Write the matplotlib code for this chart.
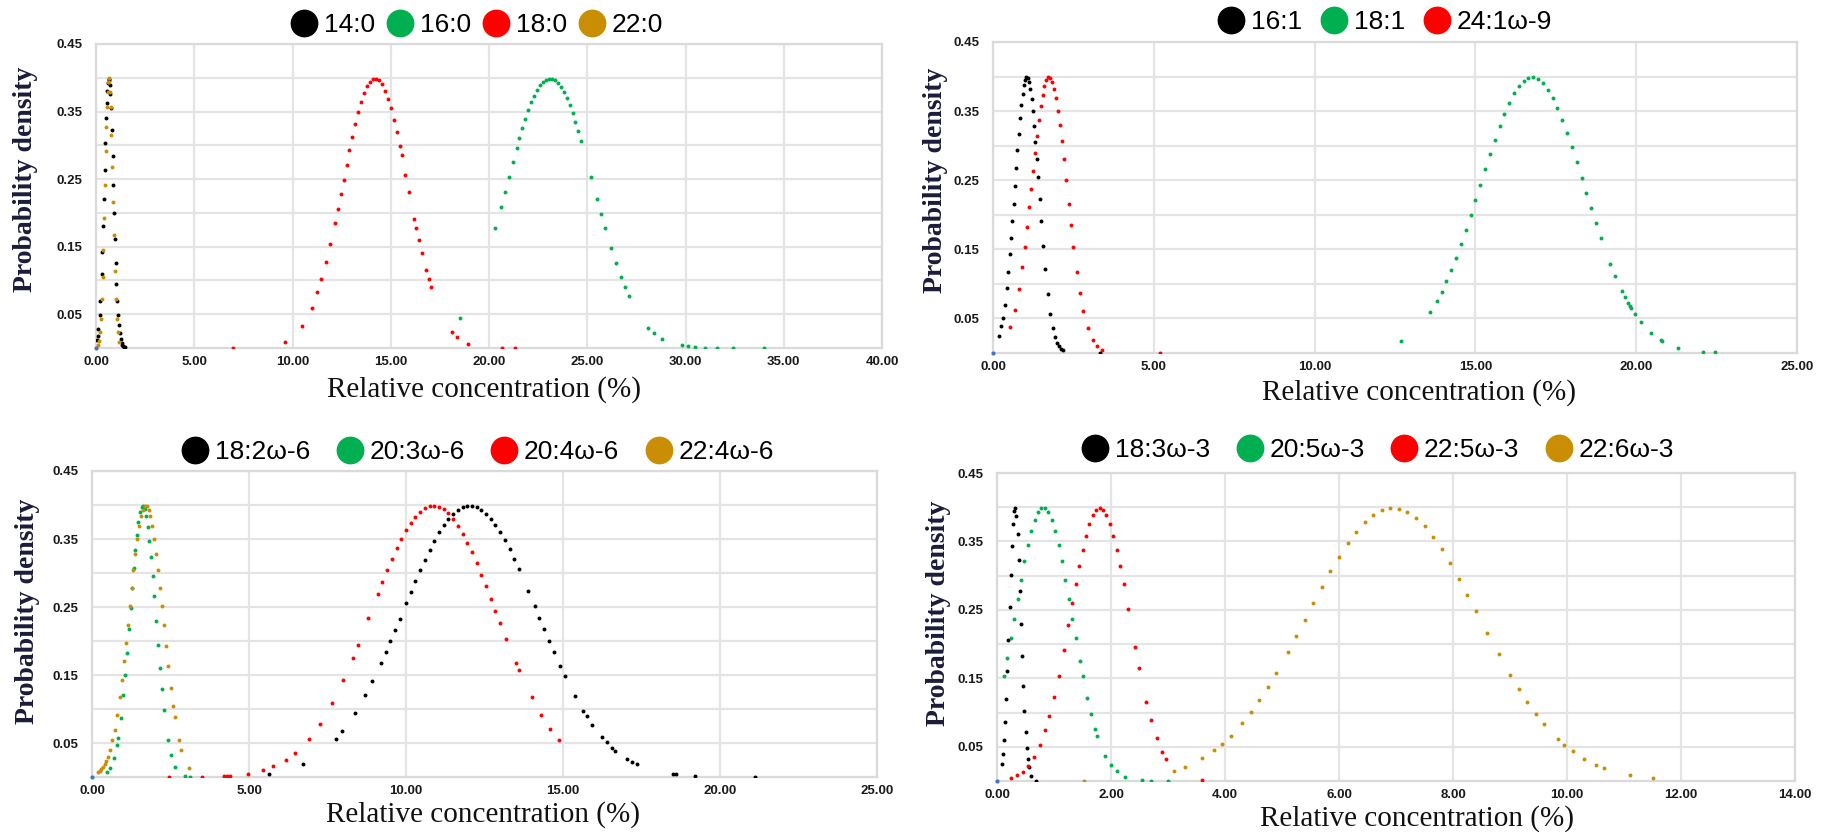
import numpy as np
import matplotlib
matplotlib.use("Agg")
import matplotlib.pyplot as plt
from matplotlib.lines import Line2D

# colours used for the series (black, green, red, gold)
BLACK = "#000000"
GREEN = "#00b050"
RED = "#ff0000"
GOLD = "#c98e04"
BLUE = "#4472c4"

# ---- panel 1: saturated ----
p1_names = ["14:0", "16:0", "18:0", "22:0"]
p1_mean = [0.65, 23.1, 14.2, 0.65]
p1_sd = [0.23, 2.2, 1.65, 0.19]
x_14_0 = [0.04, 0.08, 0.12, 0.18, 0.22, 0.28, 0.32, 0.36, 0.4, 0.44, 0.48, 0.52, 0.55,
          0.58, 0.61, 0.64, 0.67, 0.7, 0.73, 0.76, 0.8, 0.84, 0.88, 0.92, 0.96, 1.0,
          1.04, 1.08, 1.12, 1.16, 1.2, 1.25, 1.3, 1.34, 1.38, 1.42, 1.46]
x_16_0 = [18.5, 20.3, 20.6, 20.8, 21.0, 21.2, 21.4, 21.55, 21.7, 21.85, 22.0, 22.15, 22.3,
          22.45, 22.6, 22.75, 22.9, 23.05, 23.2, 23.35, 23.5, 23.65, 23.8, 23.95, 24.1,
          24.25, 24.4, 24.55, 24.7, 25.2, 25.5, 25.7, 25.9, 26.2, 26.45, 26.7, 26.9, 27.1,
          28.1, 28.4, 28.8, 29.8, 30.15, 30.5, 31.0, 31.6, 32.4, 34.0]
x_18_0 = [6.96, 9.6, 10.5, 10.97, 11.27, 11.47, 11.7, 11.92, 12.15, 12.3, 12.45, 12.6, 12.75,
          12.9, 13.05, 13.2, 13.35, 13.5, 13.65, 13.8, 13.95, 14.1, 14.25, 14.4, 14.55,
          14.7, 14.85, 15.0, 15.15, 15.3, 15.45, 15.55, 15.75, 15.93, 16.2, 16.3, 16.43,
          16.58, 16.8, 16.93, 17.05, 18.14, 18.35, 18.94, 20.68, 21.3]
x_22_0 = [0.08, 0.14, 0.2, 0.25, 0.3, 0.34, 0.38, 0.42, 0.46, 0.5, 0.53, 0.56, 0.59, 0.62,
          0.65, 0.68, 0.71, 0.74, 0.78, 0.82, 0.86, 0.9, 0.95, 1.0, 1.05, 1.1, 1.18]

# ---- panel 2: monounsaturated ----
p2_names = ["16:1", "18:1", "24:1\u03c9-9"]
p2_mean = [1.05, 16.76, 1.74]
p2_sd = [0.37, 1.62, 0.55]
x_16_1 = [0.18, 0.25, 0.3, 0.36, 0.42, 0.47, 0.52, 0.56, 0.6, 0.64, 0.68, 0.72, 0.76, 0.8,
          0.84, 0.88, 0.92, 0.96, 1.0, 1.04, 1.08, 1.12, 1.16, 1.2, 1.24, 1.28, 1.32, 1.36,
          1.4, 1.45, 1.5, 1.56, 1.62, 1.7, 1.78, 1.86, 1.93, 2.0, 2.06, 2.12, 2.17, 3.33]
x_18_1 = [12.69, 13.6, 13.8, 13.95, 14.1, 14.25, 14.4, 14.55, 14.7, 14.85, 15.0, 15.15, 15.3,
          15.45, 15.6, 15.75, 15.9, 16.05, 16.2, 16.35, 16.5, 16.65, 16.8, 16.95, 17.1,
          17.25, 17.4, 17.55, 17.7, 17.85, 18.0, 18.15, 18.3, 18.45, 18.6, 18.75, 18.9,
          19.2, 19.35, 19.56, 19.65, 19.75, 19.8, 19.84, 19.96, 20.15, 20.46, 20.77, 20.8,
          21.3, 22.07, 22.44]
x_24_1 = [0.54, 0.68, 0.8, 0.9, 0.98, 1.05, 1.12, 1.18, 1.24, 1.3, 1.36, 1.42, 1.48, 1.54,
          1.6, 1.66, 1.72, 1.78, 1.84, 1.9, 1.96, 2.02, 2.08, 2.14, 2.2, 2.27, 2.35, 2.42,
          2.5, 2.6, 2.7, 2.81, 2.95, 3.1, 3.22, 3.38, 5.2]

# ---- panel 3: omega-6 ----
p3_names = ["18:2\u03c9-6", "20:3\u03c9-6", "20:4\u03c9-6", "22:4\u03c9-6"]
p3_mean = [12.03, 1.62, 10.87, 1.71]
p3_sd = [2.15, 0.40, 2.0, 0.53]
x_18_2 = [5.65, 6.72, 7.77, 7.97, 8.38, 8.71, 8.93, 9.2, 9.35, 9.5, 9.65, 9.8, 10.0, 10.15,
          10.3, 10.45, 10.6, 10.75, 10.9, 11.05, 11.2, 11.35, 11.5, 11.65, 11.8, 11.95,
          12.1, 12.25, 12.4, 12.55, 12.7, 12.85, 13.0, 13.15, 13.3, 13.45, 13.6, 13.9,
          14.1, 14.25, 14.4, 14.55, 14.7, 14.9, 15.05, 15.38, 15.65, 15.75, 15.93, 16.25,
          16.39, 16.57, 16.67, 17.03, 17.2, 17.36, 18.5, 18.6, 19.2, 21.1]
x_20_3 = [0.48, 0.57, 0.7, 0.79, 0.83, 0.92, 1.0, 1.06, 1.12, 1.18, 1.23, 1.28, 1.33, 1.38,
          1.43, 1.48, 1.53, 1.58, 1.63, 1.68, 1.73, 1.78, 1.83, 1.88, 1.93, 1.98, 2.04,
          2.1, 2.16, 2.22, 2.29, 2.42, 2.52, 2.65, 2.96, 3.12]
x_20_4 = [2.45, 3.5, 4.2, 4.3, 4.4, 4.96, 5.45, 5.77, 6.17, 6.46, 6.9, 7.26, 7.64, 8.0, 8.3,
          8.47, 8.8, 9.1, 9.25, 9.4, 9.55, 9.7, 9.85, 10.0, 10.15, 10.3, 10.45, 10.6,
          10.75, 10.9, 11.05, 11.2, 11.35, 11.5, 11.65, 11.8, 11.95, 12.1, 12.25, 12.4,
          12.55, 12.7, 12.85, 13.0, 13.2, 13.5, 13.6, 14.0, 14.3, 14.6, 14.86]
x_22_4 = [0.2, 0.25, 0.3, 0.35, 0.4, 0.45, 0.5, 0.57, 0.65, 0.72, 0.8, 0.88, 0.95, 1.02,
          1.08, 1.14, 1.2, 1.26, 1.32, 1.38, 1.44, 1.5, 1.56, 1.62, 1.68, 1.74, 1.8, 1.86,
          1.92, 1.98, 2.04, 2.1, 2.16, 2.22, 2.28, 2.35, 2.42, 2.5, 2.58, 2.63, 2.77,
          2.85, 3.09]

# ---- panel 4: omega-3 ----
p4_names = ["18:3\u03c9-3", "20:5\u03c9-3", "22:5\u03c9-3", "22:6\u03c9-3"]
p4_mean = [0.315, 0.81, 1.80, 6.94]
p4_sd = [0.10, 0.50, 0.52, 1.50]
x_18_3 = [0.08, 0.1, 0.12, 0.14, 0.16, 0.18, 0.2, 0.22, 0.24, 0.26, 0.28, 0.3, 0.32, 0.34,
          0.36, 0.38, 0.4, 0.42, 0.44, 0.46, 0.48, 0.5, 0.52, 0.54, 0.56, 0.6, 0.68]
x_20_5 = [0.12, 0.18, 0.24, 0.3, 0.36, 0.42, 0.48, 0.54, 0.6, 0.66, 0.72, 0.78, 0.84, 0.9,
          0.96, 1.02, 1.08, 1.14, 1.2, 1.26, 1.32, 1.38, 1.45, 1.5, 1.58, 1.65, 1.72,
          1.76, 1.9, 2.0, 2.1, 2.25, 2.55, 2.7, 3.0]
x_22_5 = [0.25, 0.35, 0.45, 0.55, 0.65, 0.75, 0.85, 0.92, 1.0, 1.08, 1.17, 1.25, 1.32, 1.38,
          1.44, 1.5, 1.56, 1.62, 1.68, 1.74, 1.8, 1.86, 1.92, 1.98, 2.04, 2.1, 2.16, 2.22,
          2.3, 2.42, 2.49, 2.62, 2.7, 2.8, 2.9, 2.97, 3.6]
x_22_6 = [1.52, 3.1, 3.3, 3.6, 3.8, 3.95, 4.1, 4.3, 4.45, 4.6, 4.75, 4.9, 5.1, 5.25, 5.4,
          5.55, 5.7, 5.85, 6.0, 6.15, 6.3, 6.45, 6.6, 6.75, 6.9, 7.05, 7.2, 7.35, 7.5, 7.65,
          7.8, 7.95, 8.1, 8.25, 8.4, 8.6, 8.8, 9.0, 9.15, 9.3, 9.45, 9.6, 9.85, 9.95, 10.1,
          10.3, 10.5, 10.65, 11.1, 11.5]

y_ticks = [0.05, 0.10, 0.15, 0.20, 0.25, 0.30, 0.35, 0.40, 0.45]
y_ticklabels = ["0.05", "", "0.15", "", "0.25", "", "0.35", "", "0.45"]


def density(x, mean, sd):
    # standard normal density of the standardised value
    z = (np.asarray(x) - mean) / sd
    return np.exp(-0.5 * z ** 2) / np.sqrt(2 * np.pi)


W, H = 1821, 832
fig = plt.figure(figsize=(W / 100, H / 100), dpi=100)

# pixel boxes (left, right, top, bottom), legend centre, label centres
panels = [
    dict(box=(96, 882, 44, 348), xmax=40, step=5, names=p1_names, means=p1_mean, sds=p1_sd,
         xs=[x_14_0, x_16_0, x_18_0, x_22_0], colors=[BLACK, GREEN, RED, GOLD],
         leg=(477, 25), colsp=0.45, ylab=(26, 179), xlab=(484, 390)),
    dict(box=(993, 1797, 42, 353), xmax=25, step=5, names=p2_names, means=p2_mean, sds=p2_sd,
         xs=[x_16_1, x_18_1, x_24_1], colors=[BLACK, GREEN, RED],
         leg=(1385, 22), colsp=0.7, ylab=(936, 180), xlab=(1419, 393)),
    dict(box=(92, 877, 471, 777), xmax=25, step=5, names=p3_names, means=p3_mean, sds=p3_sd,
         xs=[x_18_2, x_20_3, x_20_4, x_22_4], colors=[BLACK, GREEN, RED, GOLD],
         leg=(478, 452), colsp=1.0, ylab=(28, 611), xlab=(483, 815)),
    dict(box=(997, 1795, 473, 781), xmax=14, step=2, names=p4_names, means=p4_mean, sds=p4_sd,
         xs=[x_18_3, x_20_5, x_22_5, x_22_6], colors=[BLACK, GREEN, RED, GOLD],
         leg=(1378, 450), colsp=1.0, ylab=(938, 613), xlab=(1417, 819)),
]

for p in panels:
    l, r, t, b = p["box"]
    ax = fig.add_axes([l / W, 1 - b / H, (r - l) / W, (b - t) / H])
    for xs, m, s, c in zip(p["xs"], p["means"], p["sds"], p["colors"]):
        ax.scatter(xs, density(xs, m, s), s=8, color=c, linewidths=0, zorder=3)
    ax.scatter([0], [0], s=9, color=BLUE, linewidths=0, zorder=3, clip_on=False)

    ax.set_xlim(0, p["xmax"])
    ax.set_ylim(0, 0.45)
    xt = np.arange(0, p["xmax"] + 0.01, p["step"])
    ax.set_xticks(xt)
    ax.set_xticklabels(["%.2f" % v for v in xt])
    ax.set_yticks(y_ticks)
    ax.set_yticklabels(y_ticklabels)
    ax.grid(True, color="#e4e4e4", lw=1.6, zorder=0)
    ax.set_axisbelow(True)
    for sp in ax.spines.values():
        sp.set_color("#dadada")
        sp.set_linewidth(1.6)
    ax.tick_params(axis="both", length=0, labelsize=9.5, labelcolor="#1a1a1a")
    ax.tick_params(axis="y", pad=10)
    ax.tick_params(axis="x", pad=6)
    for lab in ax.get_xticklabels() + ax.get_yticklabels():
        lab.set_fontweight("bold")
        lab.set_family("Liberation Sans")

    ax.set_ylabel("Probability density", fontsize=20, fontweight="bold",
                  family="Liberation Serif", color="#1b1b3a")
    ax.yaxis.set_label_coords((p["ylab"][0] - l) / (r - l), (b - p["ylab"][1]) / (b - t))
    ax.yaxis.label.set_va("center")
    ax.set_xlabel("Relative concentration (%)", fontsize=21, family="Liberation Serif",
                  color="#111111")
    ax.xaxis.set_label_coords((p["xlab"][0] - l) / (r - l), (b - p["xlab"][1]) / (b - t))
    ax.xaxis.label.set_va("center")

    handles = [Line2D([], [], ls="none", marker="o", markersize=19, color=c)
               for c in p["colors"]]
    ax.legend(handles, p["names"], loc="center", ncol=len(handles),
              bbox_to_anchor=(p["leg"][0] / W, 1 - p["leg"][1] / H),
              bbox_transform=fig.transFigure, frameon=False, handlelength=1.0,
              handletextpad=0.25, columnspacing=p["colsp"], borderpad=0,
              prop={"family": ["Liberation Sans", "DejaVu Sans"], "size": 19})

fig.savefig("out.png", dpi=100)
